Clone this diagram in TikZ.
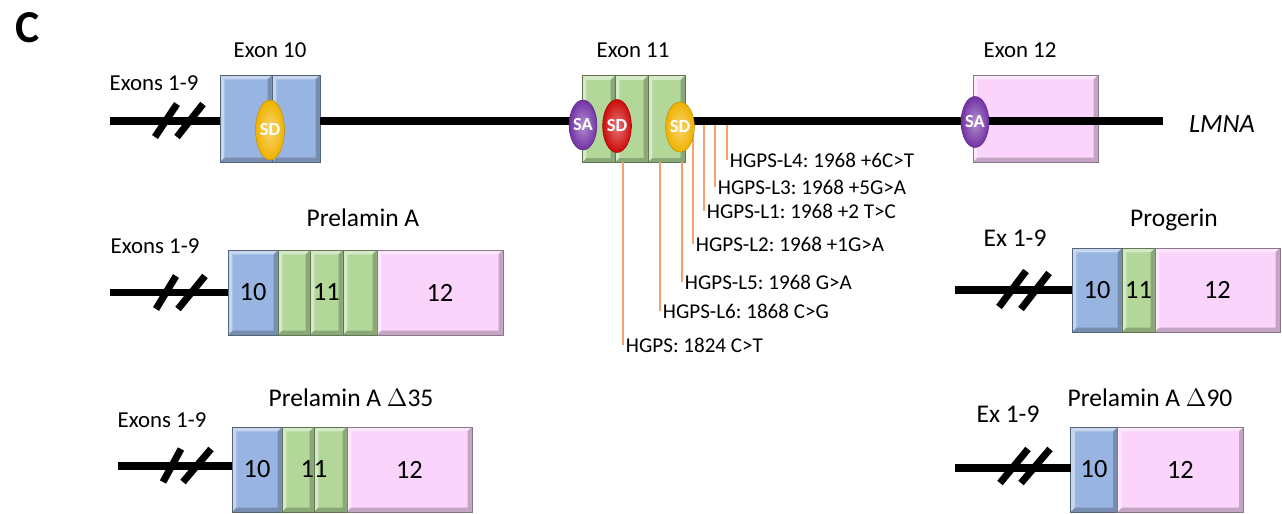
\documentclass[tikz,border=0pt]{standalone}
\usepackage{fontspec}
\setmainfont{Carlito}
\usepackage{xcolor}
\usetikzlibrary{positioning,shapes.geometric}

\definecolor{exblue}{RGB}{152,181,226}
\definecolor{exgreen}{RGB}{178,215,152}
\definecolor{expink}{RGB}{251,212,251}
\definecolor{sdyel}{RGB}{240,178,0}
\definecolor{sdred}{RGB}{205,10,10}
\definecolor{sapurp}{RGB}{115,50,165}
\definecolor{mutorange}{RGB}{246,160,110}

\begin{document}
\frenchspacing
\begin{tikzpicture}[x=0.02cm, y=-0.02cm,
    exon/.style={rectangle, draw=#1!55!black, line width=0.5pt, fill=#1, inner sep=0pt, outer sep=0pt, bevel, font=\fontsize{15}{17}\selectfont},
    bevel/.style={path picture={
        \coordinate (bnw) at (path picture bounding box.north west);
        \coordinate (bne) at (path picture bounding box.north east);
        \coordinate (bsw) at (path picture bounding box.south west);
        \coordinate (bse) at (path picture bounding box.south east);
        \fill[white, opacity=0.45] (bsw) -- (bnw) -- (bne) -- ([shift={(-2.5pt,-2.5pt)}]bne) -- ([shift={(2.5pt,-2.5pt)}]bnw) -- ([shift={(2.5pt,2.5pt)}]bsw) -- cycle;
        \fill[black, opacity=0.22] (bsw) -- (bse) -- (bne) -- ([shift={(-2.5pt,-2.5pt)}]bne) -- ([shift={(-2.5pt,2.5pt)}]bse) -- ([shift={(2.5pt,2.5pt)}]bsw) -- cycle;
    }},
    site/.style={ellipse, shade, inner color=#1!55!white, outer color=#1, draw=#1!80!black, line width=0.3pt, inner sep=0pt, minimum width=0.46cm, text=white, font=\bfseries\fontsize{10.5}{12}\selectfont},
    gene/.style={line width=4.5pt, black},
    brk/.style={line width=4pt, black},
    mutline/.style={draw=mutorange, line width=0.7pt},
    mut/.style={anchor=west, inner sep=1.5pt, font=\fontsize{12}{14}\selectfont},
    lbl/.style={font=\fontsize{13}{15}\selectfont},
    title/.style={font=\fontsize{14.5}{17}\selectfont}
]
    \useasboundingbox (0,0) rectangle (1282,514);

    % Panel letter
    \node[font=\bfseries\fontsize{26}{28}\selectfont] (panel) at (28,28) {C};

    % LMNA gene: exon boxes
    \node[exon=exblue, minimum width=1.04cm, minimum height=1.74cm] (e10a) at (246,118.5) {};
    \node[exon=exblue, minimum width=0.96cm, minimum height=1.74cm, right=0pt of e10a] (e10b) {};
    \node[exon=exgreen, minimum width=0.66cm, minimum height=1.74cm] (e11a) at (598.5,119) {};
    \node[exon=exgreen, minimum width=0.66cm, minimum height=1.74cm, right=0pt of e11a] (e11b) {};
    \node[exon=exgreen, minimum width=0.74cm, minimum height=1.74cm, right=0pt of e11b] (e11c) {};
    \node[exon=expink, minimum width=2.5cm, minimum height=1.74cm] (e12) at (1035.5,118.5) {};

    % exon labels
    \node[lbl] (x10) at (270,50) {Exon 10};
    \node[lbl] (x11) at (633,50) {Exon 11};
    \node[lbl] (x12) at (1020,50) {Exon 12};
    \node[lbl] (x19) at (154,83) {Exons 1-9};
    \node[font=\itshape\fontsize{15}{17}\selectfont] (lmna) at (1222,124) {LMNA};

    % mutation labels
    \node[mut] (l4) at (727,160) {HGPS-L4: 1968 +6C>T};
    \node[mut] (l3) at (715,187) {HGPS-L3: 1968 +5G>A};
    \node[mut] (l1) at (704,211) {HGPS-L1: 1968 +2 T>C};
    \node[mut] (l2) at (693,244) {HGPS-L2: 1968 +1G>A};
    \node[mut] (l5) at (682,282) {HGPS-L5: 1968 G>A};
    \node[mut] (l6) at (660,311) {HGPS-L6: 1868 C>G};
    \node[mut] (l0) at (623,345) {HGPS: 1824 C>T};

    % mutation lines (under the gene line)
    \coordinate (g0) at (110,121);
    \coordinate (gend) at (1163,121);
    \draw[mutline] (l4.west |- g0) -- (l4.west);
    \draw[mutline] (l3.west |- g0) -- (l3.west);
    \draw[mutline] (l1.west |- g0) -- (l1.west);
    \draw[mutline] (l2.west |- g0) -- (l2.west);
    \draw[mutline] (l5.west |- e11c.south) -- (l5.west);
    \draw[mutline] (l6.west |- e11c.south) -- (l6.west);
    \draw[mutline] (l0.west |- e11b.south) -- (l0.west);

    % gene line
    \draw[gene] (g0) -- (g0 -| e10a.west);
    \draw[gene] (e10b.east |- g0) -- (e11a.west |- g0);
    \draw[gene] (e11c.east |- g0) -- (gend);
    \draw[brk] (155,137) -- (177,104);
    \draw[brk] (177,137) -- (203,104);

    % splice sites
    \node[site=sdyel, minimum height=1.2cm] (sd10) at (270,130) {SD};
    \node[site=sapurp, minimum height=1.0cm] (sa11) at (583,125) {SA};
    \node[site=sdred, minimum height=1.06cm] (sd11a) at (617,126) {SD};
    \node[site=sdyel, minimum height=1.0cm] (sd11b) at (680,127) {SD};
    \node[site=sapurp, minimum height=1.02cm] (sa12) at (975,122) {SA};

    % Prelamin A
    \node[title] (tpa) at (363,218) {Prelamin A};
    \node[lbl] (xpa) at (155,246) {Exons 1-9};
    \node[exon=exblue, minimum width=1cm, minimum height=1.7cm] (pa10) at (253,292.5) {10};
    \node[exon=exgreen, minimum width=0.64cm, minimum height=1.7cm, right=0pt of pa10] (pa11a) {};
    \node[exon=exgreen, minimum width=0.66cm, minimum height=1.7cm, right=0pt of pa11a] (pa11b) {11};
    \node[exon=exgreen, minimum width=0.68cm, minimum height=1.7cm, right=0pt of pa11b] (pa11c) {};
    \node[exon=expink, minimum width=2.52cm, minimum height=1.7cm, right=0pt of pa11c] (pa12) {12};
    \coordinate (pa0) at (110,292.5);
    \draw[gene] (pa0) -- (pa10.west);
    \draw[brk] (156,309) -- (176,276);
    \draw[brk] (178,309) -- (205,276);

    % Progerin
    \node[title] (tpg) at (1174,220) {Progerin};
    \node[title] (xpg) at (1015,238) {Ex 1-9};
    \node[exon=exblue, minimum width=1cm, minimum height=1.68cm] (pg10) at (1097,290) {10};
    \node[exon=exgreen, minimum width=0.66cm, minimum height=1.68cm, right=0pt of pg10] (pg11) {11};
    \node[exon=expink, minimum width=2.5cm, minimum height=1.68cm, right=0pt of pg11] (pg12) {12};
    \coordinate (pg0) at (955,290);
    \draw[gene] (pg0) -- (pg10.west);
    \draw[brk] (999,307) -- (1026,271);
    \draw[brk] (1021,309) -- (1049,273);

    % Prelamin A delta35
    \node[title] (t35) at (351,398) {Prelamin A $\Delta$35};
    \node[lbl] (x35) at (162,420) {Exons 1-9};
    \node[exon=exblue, minimum width=1cm, minimum height=1.7cm] (d35a) at (257,469.5) {10};
    \node[exon=exgreen, minimum width=0.64cm, minimum height=1.7cm, right=0pt of d35a] (d35b) {};
    \node[exon=exgreen, minimum width=0.66cm, minimum height=1.7cm, right=0pt of d35b] (d35c) {};
    \node[exon=expink, minimum width=2.5cm, minimum height=1.7cm, right=0pt of d35c] (d35d) {12};
    \node[font=\fontsize{15}{17}\selectfont] (n35) at (d35b.east) {11};
    \coordinate (d350) at (118,466);
    \draw[gene] (d350) -- (d35a.west |- d350);
    \draw[brk] (163,482) -- (181,449);
    \draw[brk] (183,482) -- (211,449);

    % Prelamin A delta90
    \node[title] (t90) at (1150,398) {Prelamin A $\Delta$90};
    \node[title] (x90) at (1008,414) {Ex 1-9};
    \node[exon=exblue, minimum width=0.94cm, minimum height=1.7cm] (d90a) at (1094,469.5) {10};
    \node[exon=expink, minimum width=2.52cm, minimum height=1.7cm, right=0pt of d90a] (d90b) {12};
    \coordinate (d900) at (955,468);
    \draw[gene] (d900) -- (d90a.west |- d900);
    \draw[brk] (1000,483) -- (1028,449);
    \draw[brk] (1021,483) -- (1050,449);
\end{tikzpicture}
\end{document}
